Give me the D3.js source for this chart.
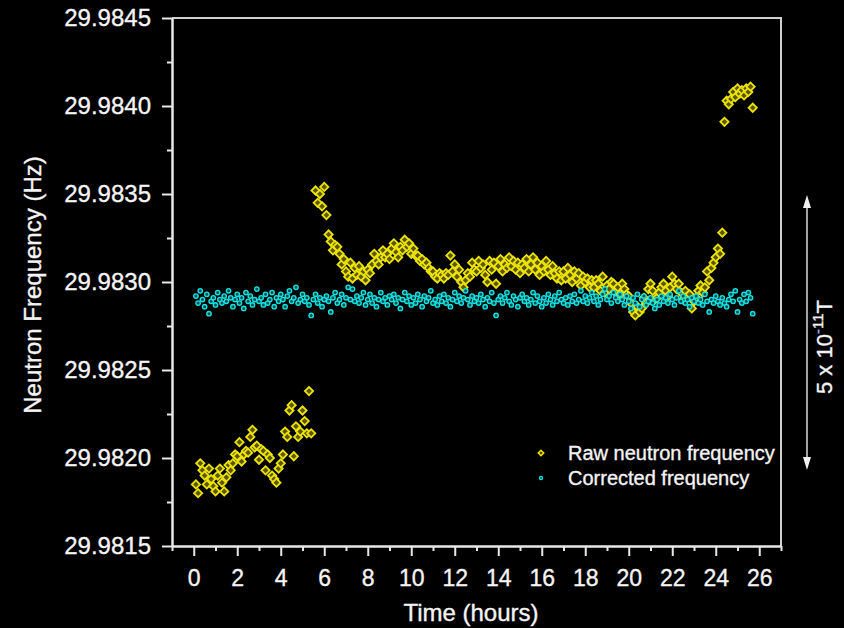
<!DOCTYPE html>
<html>
<head>
<meta charset="utf-8">
<script src="https://cdn.jsdelivr.net/npm/d3@7"></script>
<style>
  html, body { margin: 0; background: #000; }
  svg { display: block; font-family: "Liberation Sans", Arial, sans-serif; }
  .axis path, .axis line { stroke: #e8e8e8; stroke-width: 2; }
  .axis text { fill: #f4f4f4; stroke: #f4f4f4; stroke-width: 0.35; }
  .lbl { fill: #f4f4f4; stroke: #f4f4f4; stroke-width: 0.35; }
</style>
</head>
<body>
<svg id="chart" width="844" height="628"></svg>
<script>
// measurement times (hours)
const hours = [
  0.1, 0.2, 0.3, 0.4, 0.5, 0.6, 0.7, 0.8, 0.9, 1.0,
  1.1, 1.2, 1.3, 1.4, 1.5, 1.6, 1.7, 1.8, 1.9, 2.0,
  2.1, 2.2, 2.3, 2.4, 2.5, 2.6, 2.7, 2.8, 2.9, 3.0,
  3.1, 3.2, 3.3, 3.4, 3.5, 3.6, 3.7, 3.8, 3.9, 4.0,
  4.1, 4.2, 4.3, 4.4, 4.5, 4.6, 4.7, 4.8, 4.9, 5.0,
  5.1, 5.2, 5.3, 5.4, 5.5, 5.6, 5.7, 5.8, 5.9, 6.0,
  6.1, 6.2, 6.3, 6.4, 6.5, 6.6, 6.7, 6.8, 6.9, 7.0,
  7.1, 7.2, 7.3, 7.4, 7.5, 7.6, 7.7, 7.8, 7.9, 8.0,
  8.1, 8.2, 8.3, 8.4, 8.5, 8.6, 8.7, 8.8, 8.9, 9.0,
  9.1, 9.2, 9.3, 9.4, 9.5, 9.6, 9.7, 9.8, 9.9, 10.0,
  10.1, 10.2, 10.3, 10.4, 10.5, 10.6, 10.7, 10.8, 10.9, 11.0,
  11.1, 11.2, 11.3, 11.4, 11.5, 11.6, 11.7, 11.8, 11.9, 12.0,
  12.1, 12.2, 12.3, 12.4, 12.5, 12.6, 12.7, 12.8, 12.9, 13.0,
  13.1, 13.2, 13.3, 13.4, 13.5, 13.6, 13.7, 13.8, 13.9, 14.0,
  14.1, 14.2, 14.3, 14.4, 14.5, 14.6, 14.7, 14.8, 14.9, 15.0,
  15.1, 15.2, 15.3, 15.4, 15.5, 15.6, 15.7, 15.8, 15.9, 16.0,
  16.1, 16.2, 16.3, 16.4, 16.5, 16.6, 16.7, 16.8, 16.9, 17.0,
  17.1, 17.2, 17.3, 17.4, 17.5, 17.6, 17.7, 17.8, 17.9, 18.0,
  18.1, 18.2, 18.3, 18.4, 18.5, 18.6, 18.7, 18.8, 18.9, 19.0,
  19.1, 19.2, 19.3, 19.4, 19.5, 19.6, 19.7, 19.8, 19.9, 20.0,
  20.1, 20.2, 20.3, 20.4, 20.5, 20.6, 20.7, 20.8, 20.9, 21.0,
  21.1, 21.2, 21.3, 21.4, 21.5, 21.6, 21.7, 21.8, 21.9, 22.0,
  22.1, 22.2, 22.3, 22.4, 22.5, 22.6, 22.7, 22.8, 22.9, 23.0,
  23.1, 23.2, 23.3, 23.4, 23.5, 23.6, 23.7, 23.8, 23.9, 24.0,
  24.1, 24.2, 24.3, 24.4, 24.5, 24.6, 24.7, 24.8, 24.9, 25.0,
  25.1, 25.2, 25.3, 25.4, 25.5, 25.6, 25.7
];

// raw neutron frequency (Hz), null = no point
const rawFreq = [
  29.98185, 29.98180, 29.98197, 29.98193, 29.98190, 29.98185, 29.98194, 29.98188, 29.98184, 29.98181,
  29.98190, 29.98194, 29.98186, 29.98181, 29.98189, 29.98196, 29.98193, 29.98197, 29.98202, 29.98201,
  29.98209, 29.98198, 29.98202, 29.98204, 29.98203, 29.98212, 29.98216, 29.98206, 29.98207, 29.98199,
  29.98205, 29.98204, 29.98193, 29.98202, 29.98200, 29.98190, 29.98188, 29.98186, 29.98194, 29.98197,
  29.98202, 29.98215, 29.98212, 29.98227, 29.98230, 29.98201, 29.98218, 29.98212, 29.98215, 29.98227,
  29.98221, 29.98214, 29.98238, 29.98214, null, 29.98352, 29.98345, 29.98350, 29.98343, 29.98354,
  29.98338, 29.98327, 29.98323, 29.98318, 29.98321, 29.98320, 29.98316, 29.98310, 29.98313, 29.98306,
  29.98303, 29.98311, 29.98302, 29.98308, 29.98304, 29.98309, 29.98303, 29.98306, 29.98301, 29.98307,
  29.98305, 29.98310, 29.98316, 29.98312, 29.98310, 29.98314, 29.98318, 29.98314, 29.98316, 29.98313,
  29.98319, 29.98322, 29.98317, 29.98314, 29.98320, 29.98318, 29.98324, 29.98320, 29.98322, 29.98316,
  29.98319, 29.98315, 29.98315, 29.98312, 29.98313, 29.98310, 29.98311, 29.98308, 29.98306, 29.98306,
  29.98303, 29.98302, 29.98305, 29.98304, 29.98302, 29.98305, 29.98304, 29.98315, 29.98306, 29.98310,
  29.98303, 29.98307, 29.98300, 29.98297, 29.98301, 29.98305, 29.98303, 29.98311, 29.98307, 29.98306,
  29.98312, 29.98308, 29.98310, 29.98304, 29.98300, 29.98312, 29.98307, 29.98311, 29.98299, 29.98309,
  29.98313, 29.98306, 29.98310, 29.98308, 29.98314, 29.98309, 29.98312, 29.98307, 29.98311, 29.98305,
  29.98310, 29.98308, 29.98313, 29.98306, 29.98310, 29.98314, 29.98307, 29.98311, 29.98304, 29.98309,
  29.98306, 29.98312, 29.98307, 29.98304, 29.98309, 29.98305, 29.98302, 29.98306, 29.98301, 29.98306,
  29.98302, 29.98308, 29.98304, 29.98300, 29.98306, 29.98302, 29.98305, 29.98298, 29.98303, 29.98300,
  29.98302, 29.98297, 29.98301, 29.98297, 29.98301, 29.98299, 29.98295, 29.98303, 29.98294, 29.98298,
  29.98296, 29.98300, 29.98299, 29.98294, 29.98297, 29.98293, 29.98299, 29.98296, 29.98293, 29.98292,
  29.98288, 29.98283, 29.98281, 29.98286, 29.98283, 29.98285, 29.98291, 29.98288, 29.98296, 29.98299,
  29.98295, 29.98290, 29.98291, 29.98294, 29.98297, 29.98299, 29.98295, 29.98292, 29.98297, 29.98303,
  29.98299, 29.98296, 29.98299, 29.98294, 29.98290, 29.98295, 29.98292, 29.98293, 29.98285, 29.98289,
  29.98291, 29.98295, 29.98298, 29.98294, 29.98297, 29.98306, 29.98301, 29.98308, 29.98311, 29.98314,
  29.98319, 29.98316, 29.98328, 29.98391, 29.98403, 29.98401, 29.98404, 29.98408, 29.98405, 29.98410,
  29.98407, 29.98409, 29.98406, 29.98410, 29.98408, 29.98411, 29.98399
];

// magnetometer-corrected frequency (Hz)
const correctedFreq = [
  29.98292, 29.98288, 29.98295, 29.98290, 29.98286, 29.98293, 29.98282, 29.98289, 29.98291, 29.98287,
  29.98294, 29.98290, 29.98288, 29.98292, 29.98289, 29.98295, 29.98291, 29.98286, 29.98290, 29.98293,
  29.98288, 29.98291, 29.98285, 29.98294, 29.98289, 29.98292, 29.98287, 29.98290, 29.98296, 29.98289,
  29.98291, 29.98287, 29.98293, 29.98288, 29.98290, 29.98294, 29.98286, 29.98291, 29.98289, 29.98293,
  29.98290, 29.98286, 29.98292, 29.98295, 29.98289, 29.98291, 29.98297, 29.98288, 29.98290, 29.98293,
  29.98289, 29.98291, 29.98287, 29.98281, 29.98290, 29.98293, 29.98288, 29.98291, 29.98286, 29.98290,
  29.98292, 29.98289, 29.98283, 29.98291, 29.98294, 29.98288, 29.98290, 29.98293, 29.98287, 29.98291,
  29.98297, 29.98290, 29.98296, 29.98289, 29.98292, 29.98288, 29.98291, 29.98294, 29.98287, 29.98290,
  29.98293, 29.98288, 29.98291, 29.98286, 29.98290, 29.98294, 29.98289, 29.98291, 29.98287, 29.98292,
  29.98290, 29.98293, 29.98288, 29.98291, 29.98285, 29.98290, 29.98294, 29.98289, 29.98292, 29.98287,
  29.98291, 29.98288, 29.98293, 29.98290, 29.98286, 29.98292, 29.98289, 29.98291, 29.98295, 29.98288,
  29.98290, 29.98287, 29.98292, 29.98289, 29.98293, 29.98288, 29.98291, 29.98286, 29.98290, 29.98294,
  29.98289, 29.98292, 29.98288, 29.98291, 29.98295, 29.98290, 29.98287, 29.98292, 29.98289, 29.98291,
  29.98288, 29.98293, 29.98290, 29.98286, 29.98291, 29.98289, 29.98294, 29.98288, 29.98281, 29.98290,
  29.98292, 29.98288, 29.98291, 29.98294, 29.98289, 29.98287, 29.98292, 29.98290, 29.98286, 29.98291,
  29.98293, 29.98289, 29.98291, 29.98287, 29.98290, 29.98294, 29.98288, 29.98292, 29.98289, 29.98286,
  29.98291, 29.98288, 29.98293, 29.98290, 29.98287, 29.98292, 29.98289, 29.98294, 29.98290, 29.98288,
  29.98291, 29.98287, 29.98292, 29.98289, 29.98293, 29.98288, 29.98290, 29.98295, 29.98289, 29.98292,
  29.98288, 29.98291, 29.98294, 29.98289, 29.98292, 29.98287, 29.98290, 29.98293, 29.98296, 29.98290,
  29.98292, 29.98288, 29.98294, 29.98291, 29.98289, 29.98293, 29.98290, 29.98287, 29.98292, 29.98289,
  29.98285, 29.98291, 29.98288, 29.98293, 29.98286, 29.98290, 29.98292, 29.98287, 29.98289, 29.98291,
  29.98288, 29.98285, 29.98290, 29.98287, 29.98292, 29.98289, 29.98291, 29.98288, 29.98293, 29.98290,
  29.98287, 29.98291, 29.98295, 29.98289, 29.98292, 29.98288, 29.98290, 29.98286, 29.98291, 29.98289,
  29.98292, 29.98288, 29.98290, 29.98287, 29.98293, 29.98289, 29.98283, 29.98290, 29.98288, 29.98292,
  29.98289, 29.98287, 29.98291, 29.98288, 29.98286, 29.98290, 29.98293, 29.98289, 29.98295, 29.98283,
  29.98290, 29.98288, 29.98293, 29.98289, 29.98294, 29.98291, 29.98282
];

const xTicks = [0, 2, 4, 6, 8, 10, 12, 14, 16, 18, 20, 22, 24, 26];
const xMinorTicks = [-1, 1, 3, 5, 7, 9, 11, 13, 15, 17, 19, 21, 23, 25, 27];
const yTicks = [29.9815, 29.982, 29.9825, 29.983, 29.9835, 29.984, 29.9845];
const yMinorTicks = [29.98175, 29.98225, 29.98275, 29.98325, 29.98375, 29.98425];
const seriesNames = ['Raw neutron frequency', 'Corrected frequency'];

const svg = d3.select('#chart');

const x = d3.scaleLinear().domain([-1, 27]).range([172, 781]);
const y = d3.scaleLinear().domain([29.9815, 29.9845]).range([546, 18]);

const rawColor = '#ece400', rawFill = '#5c5600';
const corColor = '#14e2e2', corFill = '#0b4e50';

// frame (top + right)
svg.append('path')
  .attr('d', `M${x(-1)},${y(29.9845)} H${x(27)} V${y(29.9815)}`)
  .attr('fill', 'none')
  .attr('stroke', '#cfcfcf')
  .attr('stroke-width', 2);

// x axis
svg.append('g').attr('class', 'axis')
  .attr('transform', `translate(0,${y(29.9815)})`)
  .call(d3.axisBottom(x).tickValues(xMinorTicks).tickSize(5).tickSizeOuter(0).tickFormat(''));
svg.append('g').attr('class', 'axis')
  .attr('transform', `translate(0,${y(29.9815)})`)
  .call(d3.axisBottom(x).tickValues(xTicks).tickSize(10).tickSizeOuter(0).tickPadding(14))
  .call(g => g.selectAll('text').attr('font-size', 23));

// y axis
svg.append('g').attr('class', 'axis')
  .attr('transform', `translate(${x(-1)},0)`)
  .call(d3.axisLeft(y).tickValues(yMinorTicks).tickSize(5).tickSizeOuter(0).tickFormat(''));
svg.append('g').attr('class', 'axis')
  .attr('transform', `translate(${x(-1)},0)`)
  .call(d3.axisLeft(y).tickValues(yTicks).tickSize(10).tickSizeOuter(0).tickPadding(11).tickFormat(d3.format('.4f')))
  .call(g => g.selectAll('text').attr('font-size', 24));

// axis titles
svg.append('text')
  .attr('class', 'lbl')
  .attr('x', 471).attr('y', 621)
  .attr('text-anchor', 'middle')
  .attr('font-size', 24)
  .text('Time (hours)');

svg.append('text')
  .attr('class', 'lbl')
  .attr('transform', 'translate(41,285) rotate(-90)')
  .attr('text-anchor', 'middle')
  .attr('font-size', 24)
  .text('Neutron Frequency (Hz)');

// points
const rawData = hours.map((h, i) => [h, rawFreq[i]]).filter(d => d[1] !== null);
const corData = hours.map((h, i) => [h, correctedFreq[i]]);

const diamond = d3.symbol(d3.symbolSquare, 34);

svg.append('g')
  .selectAll('path')
  .data(rawData)
  .enter().append('path')
  .attr('d', diamond)
  .attr('transform', d => `translate(${x(d[0])},${y(d[1])}) rotate(45)`)
  .attr('fill', rawFill)
  .attr('stroke', rawColor)
  .attr('stroke-width', 1.8);

svg.append('g')
  .selectAll('circle')
  .data(corData)
  .enter().append('circle')
  .attr('cx', d => x(d[0]))
  .attr('cy', d => y(d[1]))
  .attr('r', 2.2)
  .attr('fill', corFill)
  .attr('stroke', corColor)
  .attr('stroke-width', 1.4);

// legend
const legend = svg.append('g').attr('transform', 'translate(541,453)');
legend.append('path')
  .attr('d', d3.symbol(d3.symbolSquare, 16))
  .attr('transform', 'rotate(45)')
  .attr('fill', rawFill)
  .attr('stroke', rawColor)
  .attr('stroke-width', 1.4);
legend.append('circle')
  .attr('cx', 0).attr('cy', 25).attr('r', 1.6)
  .attr('fill', corFill)
  .attr('stroke', corColor)
  .attr('stroke-width', 1.2);
legend.selectAll('text')
  .data(seriesNames)
  .enter().append('text')
  .attr('class', 'lbl')
  .attr('x', 27)
  .attr('y', (d, i) => 7 + i * 25)
  .attr('font-size', 20)
  .text(d => d);

// field scale annotation on the right
const ax = 807;
svg.append('line')
  .attr('x1', ax).attr('x2', ax)
  .attr('y1', 205).attr('y2', 460)
  .attr('stroke', '#d8d8d8')
  .attr('stroke-width', 1.5);
svg.append('path')
  .attr('d', `M${ax},195 L${ax + 4},208 L${ax - 4},208 Z M${ax},470 L${ax + 4},457 L${ax - 4},457 Z`)
  .attr('fill', '#f0f0f0');

const note = svg.append('text')
  .attr('class', 'lbl')
  .attr('transform', 'translate(832,394) rotate(-90)')
  .attr('font-size', 22);
note.append('tspan').text('5 x 10');
note.append('tspan').attr('font-size', 15).attr('dy', -9).attr('fill', '#8fb4ff').attr('stroke', '#8fb4ff').text('-');
note.append('tspan').attr('font-size', 15).text('11');
note.append('tspan').attr('dy', 9).text('T');
</script>
</body>
</html>
